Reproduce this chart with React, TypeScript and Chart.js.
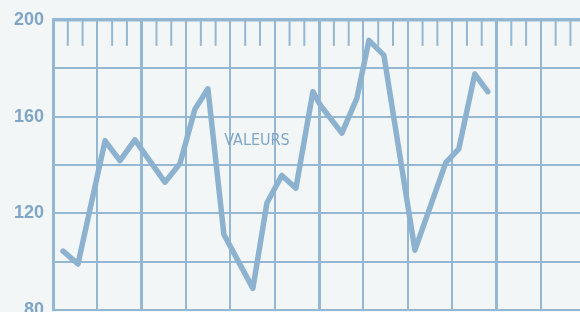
import React, { useEffect, useRef } from "react";
import { Chart, registerables } from "chart.js";

Chart.register(...registerables);

// x positions (in minor-tick units) and values of the line vertices
const xPositions = [0.68, 1.69, 3.52, 4.53, 5.54, 7.57, 8.59, 9.6, 10.48, 11.56, 13.52, 14.47, 15.48, 16.43, 17.58, 18.1, 19.54, 20.55, 21.37, 22.38, 24.48, 26.57, 27.45, 28.53, 29.41];
const values = [104.4, 99.1, 150.0, 141.8, 150.4, 132.9, 140.6, 163.0, 171.5, 111.3, 89.0, 124.3, 135.7, 130.4, 170.3, 164.6, 153.2, 167.5, 191.5, 185.4, 104.8, 141.0, 146.7, 177.6, 170.3];
const yTickLabels = [80, 120, 160, 200];
const seriesLabel = "VALEURS";
const labelAt = { x: 13.8, y: 150 };

const BG = "#f3f6f7";
const GRID = "#94b7d3";
const LINE = "#8cb2cf";
const TEXT = "#7fa6c6";

export default function App() {
  const ref = useRef<HTMLCanvasElement>(null);
  useEffect(() => {
    document.documentElement.style.overflow = "hidden";
    document.body.style.margin = "0";
    document.body.style.overflow = "hidden";
    document.body.style.background = BG;
    const bgPlugin = {
      id: "bg",
      beforeDraw(chart: any) {
        const ctx = chart.ctx;
        ctx.save();
        ctx.fillStyle = BG;
        ctx.fillRect(0, 0, chart.width, chart.height);
        ctx.restore();
      },
    };
    const topTicks = {
      id: "topTicks",
      beforeDatasetsDraw(chart: any) {
        const ctx = chart.ctx;
        const xs = chart.scales.x;
        const top = chart.chartArea.top;
        ctx.save();
        ctx.strokeStyle = GRID;
        ctx.lineWidth = 2;
        for (let k = 0; k <= xs.max; k++) {
          if (k % 3 === 0) continue;
          const px = xs.getPixelForValue(k);
          ctx.beginPath();
          ctx.moveTo(px, top);
          ctx.lineTo(px, top + 26);
          ctx.stroke();
        }
        ctx.restore();
      },
    };
    const labelPlugin = {
      id: "seriesLabel",
      afterDatasetsDraw(chart: any) {
        const ctx = chart.ctx;
        const px = chart.scales.x.getPixelForValue(labelAt.x);
        const py = chart.scales.y.getPixelForValue(labelAt.y);
        ctx.save();
        ctx.fillStyle = TEXT;
        ctx.font = "16px 'Liberation Sans Narrow', 'DejaVu Sans Condensed', sans-serif";
        ctx.textAlign = "center";
        ctx.textBaseline = "middle";
        ctx.fillText(seriesLabel, px, py);
        ctx.restore();
      },
    };
    const chart = new Chart(ref.current!, {
      type: "line",
      data: {
        datasets: [
          {
            label: seriesLabel,
            data: xPositions.map((x, i) => ({ x, y: values[i] })),
            borderColor: LINE,
            borderWidth: 5.5,
            borderJoinStyle: "round",
            borderCapStyle: "round",
            pointRadius: 0,
            tension: 0,
            fill: false,
          },
        ],
      },
      options: {
        responsive: false,
        animation: false,
        layout: { padding: { top: 17, right: 0, bottom: 18, left: 0 } },
        plugins: { legend: { display: false }, tooltip: { enabled: false } },
        scales: {
          x: {
            type: "linear",
            min: 0,
            max: 37,
            afterFit: (s: any) => { s.height = 0; },
            ticks: { display: false, stepSize: 3 },
            border: { display: false },
            grid: {
              drawTicks: false,
              color: GRID,
              lineWidth: (c: any) => ((c.tick && (c.tick.value - 6) % 12 === 0) ? 3 : 2),
            },
          },
          y: {
            min: 80,
            max: 200,
            afterFit: (s: any) => { s.width = 53; },
            ticks: {
              stepSize: 20,
              padding: 9,
              color: TEXT,
              font: { family: "'Liberation Sans', Arial, sans-serif", size: 18, weight: "bold" },
              callback: (v: any) => (yTickLabels.includes(Number(v)) ? String(v) : ""),
            },
            border: { display: true, color: GRID, width: 3 },
            grid: {
              drawTicks: false,
              color: GRID,
              lineWidth: (c: any) => (c.tick && c.tick.value === 200 ? 3.5 : 2),
            },
          },
        },
      },
      plugins: [bgPlugin, topTicks, labelPlugin],
    } as any);
    return () => chart.destroy();
  }, []);
  return (
    <div style={{ position: "fixed", left: 0, top: 0, width: 600, height: 330 }}>
      <canvas ref={ref} width={600} height={330} />
    </div>
  );
}
